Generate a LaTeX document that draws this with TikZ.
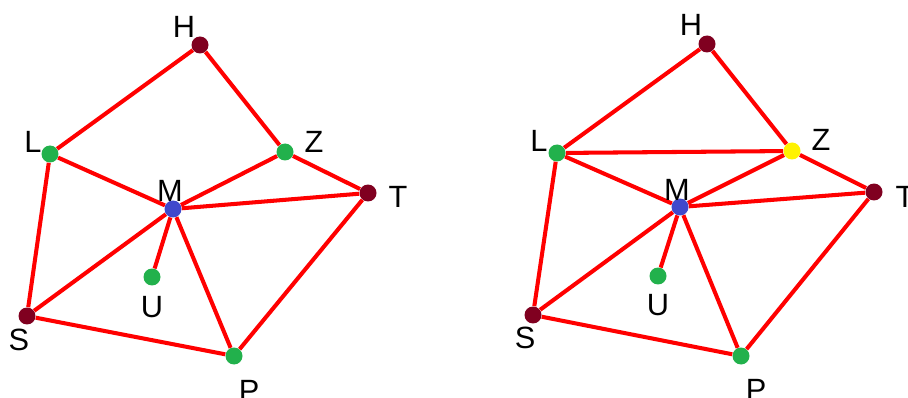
\documentclass[tikz,border=0pt]{standalone}
\usepackage{fontspec}
\setmainfont{Liberation Sans}
\usepackage{tikz}
\usetikzlibrary{positioning}

\definecolor{dotred}{RGB}{128,0,32}
\definecolor{dotgreen}{RGB}{34,177,76}
\definecolor{dotblue}{RGB}{64,72,204}
\definecolor{dotyellow}{RGB}{255,242,0}

\tikzset{
  vert/.style={circle,inner sep=0pt,minimum size=0.34cm,fill=#1},
  edge/.style={red,line width=2.3pt},
  lbl/.style={font=\fontsize{17.5}{20}\selectfont,inner sep=0pt}
}

\begin{document}
\begin{tikzpicture}[x=0.02cm,y=-0.02cm]
  \useasboundingbox (0,0) rectangle (908,398);
  % left graph
  \node[vert=dotred]   (aH) at (200,45)  {};
  \node[vert=dotgreen] (aL) at (50,154)  {};
  \node[vert=dotgreen] (aZ) at (285,152) {};
  \node[vert=dotblue]  (aM) at (173,209) {};
  \node[vert=dotred]   (aT) at (368,193) {};
  \node[vert=dotgreen] (aU) at (152,277) {};
  \node[vert=dotred]   (aS) at (27,316)  {};
  \node[vert=dotgreen] (aP) at (234,356) {};
  \foreach \u/\v in {H/L,H/Z,L/M,L/S,Z/M,Z/T,M/T,M/U,M/S,M/P,S/P,P/T}
    \draw[edge] (a\u) -- (a\v);
  \node[lbl] (aHt) at (184,27)  {H};
  \node[lbl] (aLt) at (33,142)  {L};
  \node[lbl] (aZt) at (314,142) {Z};
  \node[lbl] (aMt) at (170,191) {M};
  \node[lbl] (aTt) at (398,197) {T};
  \node[lbl] (aUt) at (152,307) {U};
  \node[lbl] (aSt) at (19,340)  {S};
  \node[lbl] (aPt) at (249,391) {P};
  % right graph
  \node[vert=dotred]    (bH) at (707,44)  {};
  \node[vert=dotgreen]  (bL) at (557,153) {};
  \node[vert=dotyellow] (bZ) at (792,151) {};
  \node[vert=dotblue]   (bM) at (680,207) {};
  \node[vert=dotred]    (bT) at (874,192) {};
  \node[vert=dotgreen]  (bU) at (658,276) {};
  \node[vert=dotred]    (bS) at (533,315) {};
  \node[vert=dotgreen]  (bP) at (741,356) {};
  \foreach \u/\v in {H/L,H/Z,L/Z,L/M,L/S,Z/M,Z/T,M/T,M/U,M/S,M/P,S/P,P/T}
    \draw[edge] (b\u) -- (b\v);
  \node[lbl] (bHt) at (691,25)  {H};
  \node[lbl] (bLt) at (539,141) {L};
  \node[lbl] (bZt) at (821,140) {Z};
  \node[lbl] (bMt) at (677,190) {M};
  \node[lbl] (bTt) at (905,197) {T};
  \node[lbl] (bUt) at (658,305) {U};
  \node[lbl] (bSt) at (525,338) {S};
  \node[lbl] (bPt) at (756,390) {P};
\end{tikzpicture}
\end{document}
